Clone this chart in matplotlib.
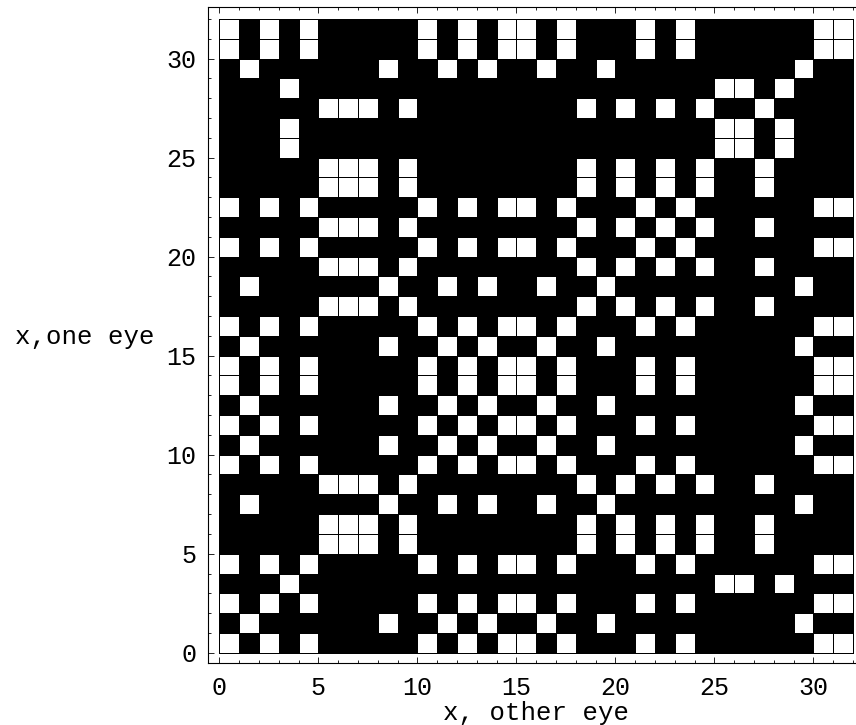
import numpy as np
import matplotlib
matplotlib.use("Agg")
import matplotlib.pyplot as plt
from matplotlib.colors import ListedColormap
from matplotlib.ticker import MultipleLocator

plt.rcParams['font.family'] = ['Liberation Mono', 'DejaVu Sans Mono']

# white columns for each of the four row patterns
cols_a = [0, 2, 4, 10, 12, 14, 15, 17, 21, 23, 30, 31]
cols_b = [1, 8, 11, 13, 16, 19, 29]
cols_c = [3, 25, 26, 28]
cols_d = [5, 6, 7, 9, 18, 20, 22, 24, 27]

# which pattern each row uses, from y = 0 (bottom) to y = 31 (top)
row_kinds = ["A", "B", "A", "C", "A", "D", "D", "B",
             "D", "A", "B", "A", "B", "A", "A", "B",
             "A", "D", "B", "D", "A", "D", "A", "D",
             "D", "C", "C", "D", "C", "B", "A", "A"]

patterns = {"A": cols_a, "B": cols_b, "C": cols_c, "D": cols_d}
n = 32
grid = np.zeros((n, n))
for y, kind in enumerate(row_kinds):
    grid[y, patterns[kind]] = 1

W, H = 856, 725
fig = plt.figure(figsize=(W / 100, H / 100), dpi=100)
ax = fig.add_axes([207.7 / W, 61.6 / H, 657.2 / W, 656.2 / H])

ax.pcolormesh(np.arange(n + 1), np.arange(n + 1), grid,
              cmap=ListedColormap(['black', 'white']), vmin=0, vmax=1,
              edgecolors='black', linewidth=0.7)

ax.set_xlim(-0.59, 32.6)
ax.set_ylim(-0.54, 32.6)

for axis in (ax.xaxis, ax.yaxis):
    axis.set_major_locator(MultipleLocator(5))
    axis.set_minor_locator(MultipleLocator(1))
ax.set_xticks(range(0, 31, 5))
ax.set_yticks(range(0, 31, 5))

ax.tick_params(which='both', direction='in', top=True, right=True,
               width=0.6, labelsize=18)
ax.tick_params(which='major', length=4.5)
ax.tick_params(which='minor', length=2.2)
ax.tick_params(axis='x', pad=9)
ax.tick_params(axis='y', pad=8)
for s in ax.spines.values():
    s.set_linewidth(0.8)

ax.text(0.5, -0.0863, "x, other eye", transform=ax.transAxes,
        ha='center', va='baseline', fontsize=18.5)
ax.text(-0.0802, 0.4867, "x,one eye", transform=ax.transAxes,
        ha='right', va='baseline', fontsize=18.5)

fig.savefig("out.png", dpi=100)
